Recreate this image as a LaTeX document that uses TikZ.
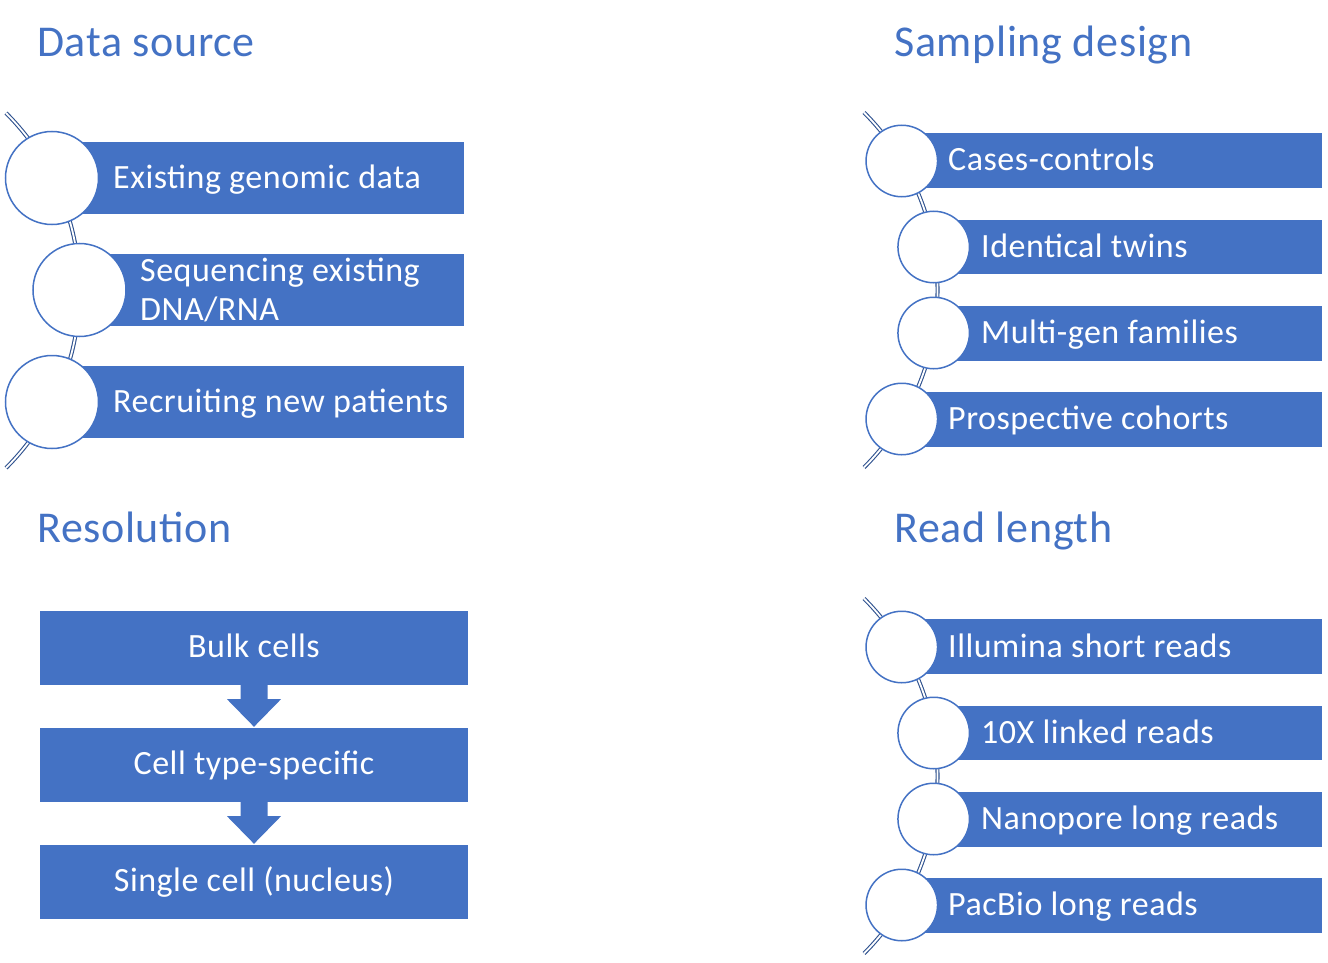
\documentclass[tikz,border=0pt]{standalone}
\usepackage{fontspec}
\setmainfont{Carlito}[LetterSpace=1.5]
\definecolor{accent}{HTML}{4472C4}
\definecolor{accentdark}{HTML}{2F528F}
\begin{document}
\begin{tikzpicture}[x=1pt,y=-1pt,
  heading/.style={anchor=base west, inner sep=0pt, text=accent, font=\fontsize{44}{52}\selectfont},
  itembar/.style={fill=accent, draw=none},
  itemtext/.style={anchor=base west, inner sep=0pt, text=white, font=\fontsize{34}{39}\selectfont},
  twoline/.style={anchor=west, inner sep=0pt, text=white, font=\fontsize{34}{39}\selectfont, align=left},
  bigdot/.style={circle, draw=accent, line width=1.5pt, fill=white, minimum size=93pt, inner sep=0pt},
  smalldot/.style={circle, draw=accent, line width=1.5pt, fill=white, minimum size=71.5pt, inner sep=0pt},
  spine/.style={draw=accentdark, line width=1.1pt, double=white, double distance=1.8pt},
  flowbox/.style={fill=accent, draw=none, minimum width=428pt, minimum height=74pt, inner sep=0pt, text=white, text height=25pt, text depth=7pt, font=\fontsize{34}{39}\selectfont},
  flowarrow/.style={fill=accent, draw=none}
]
\useasboundingbox (0,0) rectangle (1328,963);

% ---------- headings ----------
\node[heading] (h1) at (37,57) {Data source};
\node[heading] (h2) at (894,57) {Sampling design};
\node[heading] (h3) at (37,542) {Resolution};
\node[heading] (h4) at (894,542) {Read length};

% ---------- Data source ----------
\coordinate (s1) at (6,113);
\path[spine] (s1) arc[start angle=-45, end angle=45, radius=251];
\fill[itembar] (52,142) rectangle (464,214);
\fill[itembar] (79,254) rectangle (464,326);
\fill[itembar] (52,366) rectangle (464,438);
\node[bigdot] (d1) at (52,178) {};
\node[bigdot] (d2) at (79.5,290) {};
\node[bigdot] (d3) at (52,402) {};
\node[itemtext] (t1) at (113,188) {Existing genomic data};
\node[twoline] (t2) at (140,290) {Sequencing existing\\DNA/RNA};
\node[itemtext] (t3) at (113,412) {Recruiting new patients};

% ---------- Sampling design ----------
\coordinate (s2) at (864,112.5);
\path[spine] (s2) arc[start angle=-45, end angle=45, radius=251];
\fill[itembar] (902,133) rectangle (1322,188);
\fill[itembar] (934,220) rectangle (1322,274);
\fill[itembar] (934,306) rectangle (1322,361);
\fill[itembar] (902,392) rectangle (1322,447);
\node[smalldot] (e1) at (901.8,161) {};
\node[smalldot] (e2) at (933.7,247) {};
\node[smalldot] (e3) at (933.7,333) {};
\node[smalldot] (e4) at (901.8,419) {};
\node[itemtext] (u1) at (948,171) {Cases-controls};
\node[itemtext] (u2) at (981,257) {Identical twins};
\node[itemtext] (u3) at (981,343) {Multi-gen families};
\node[itemtext] (u4) at (948,429) {Prospective cohorts};

% ---------- Read length ----------
\coordinate (s4) at (864,598.5);
\path[spine] (s4) arc[start angle=-45, end angle=45, radius=251];
\fill[itembar] (902,619) rectangle (1322,674);
\fill[itembar] (934,706) rectangle (1322,760);
\fill[itembar] (934,792) rectangle (1322,847);
\fill[itembar] (902,878) rectangle (1322,933);
\node[smalldot] (f1) at (901.8,647) {};
\node[smalldot] (f2) at (933.7,733) {};
\node[smalldot] (f3) at (933.7,819) {};
\node[smalldot] (f4) at (901.8,905) {};
\node[itemtext] (v1) at (948,657) {Illumina short reads};
\node[itemtext] (v2) at (981,743) {10X linked reads};
\node[itemtext] (v3) at (981,829) {Nanopore long reads};
\node[itemtext] (v4) at (948,915) {PacBio long reads};

% ---------- Resolution ----------
\node[flowbox] (r1) at (254,648) {Bulk cells};
\node[flowbox] (r2) at (254,765) {Cell type-specific};
\node[flowbox] (r3) at (254,882) {Single cell (nucleus)};
\fill[flowarrow] ([xshift=-13.5pt]r1.south) -- ([xshift=-13.5pt,yshift=-14pt]r1.south)
  -- ([xshift=-27pt,yshift=-14pt]r1.south) -- ([yshift=1pt]r2.north)
  -- ([xshift=27pt,yshift=-14pt]r1.south) -- ([xshift=13.5pt,yshift=-14pt]r1.south)
  -- ([xshift=13.5pt]r1.south) -- cycle;
\fill[flowarrow] ([xshift=-13.5pt]r2.south) -- ([xshift=-13.5pt,yshift=-14pt]r2.south)
  -- ([xshift=-27pt,yshift=-14pt]r2.south) -- ([yshift=1pt]r3.north)
  -- ([xshift=27pt,yshift=-14pt]r2.south) -- ([xshift=13.5pt,yshift=-14pt]r2.south)
  -- ([xshift=13.5pt]r2.south) -- cycle;
\end{tikzpicture}
\end{document}
